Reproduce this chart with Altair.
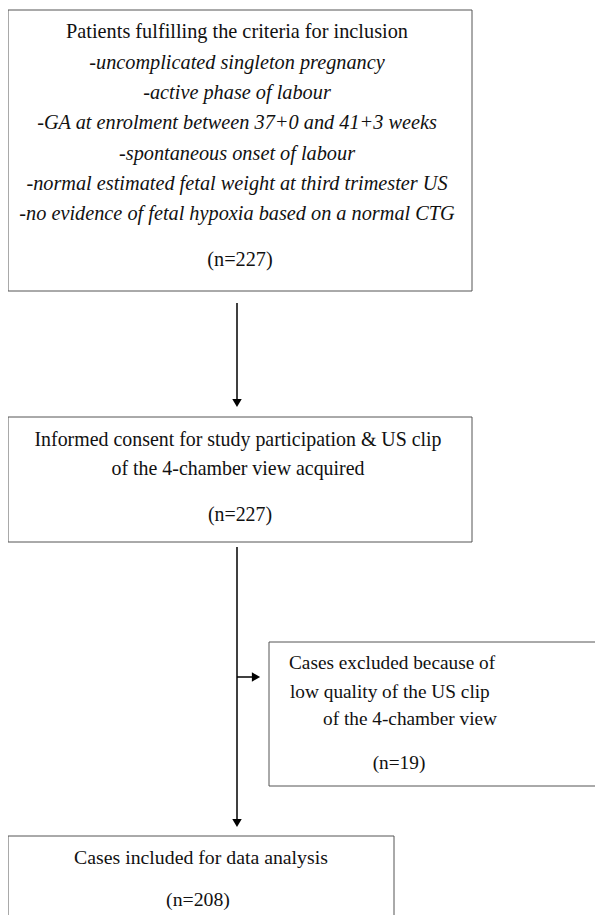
import altair as alt
import pandas as pd

# ---- content ----
box1_title = "Patients fulfilling the criteria for inclusion"
criteria = [
    "-uncomplicated singleton pregnancy",
    "-active phase of labour",
    "-GA at enrolment between 37+0 and 41+3 weeks",
    "-spontaneous onset of labour",
    "-normal estimated fetal weight at third trimester US",
    "-no evidence of fetal hypoxia based on a normal CTG",
]
box2_lines = [
    "Informed consent for study participation & US clip",
    "of the 4-chamber view acquired",
]
box3_lines = [
    "Cases excluded because of",
    "low quality of the US clip",
    "of the 4-chamber view",
]
box4_lines = ["Cases included for data analysis"]
counts = [227, 227, 19, 208]

# ---- layout (page pixel coordinates) ----
boxes = pd.DataFrame({
    "x": [8, 8, 269, 8],
    "x2": [472, 472, 650, 394],
    "y": [10, 417, 642, 836],
    "y2": [291, 542, 786, 980],
})

rows = []
rows.append(dict(x=237, y=32, text=box1_title, style="normal", align="center", fs=20.3))
for yy, t in zip([63, 93, 123, 154, 184, 214], criteria):
    rows.append(dict(x=237, y=yy, text=t, style="italic", align="center", fs=20.3))
rows.append(dict(x=240, y=260, text=f"(n={counts[0]})", style="normal", align="center", fs=20.3))
for yy, t in zip([440, 469], box2_lines):
    rows.append(dict(x=238, y=yy, text=t, style="normal", align="center", fs=19.9))
rows.append(dict(x=240, y=515, text=f"(n={counts[1]})", style="normal", align="center", fs=19.9))
for xx, yy, t in zip([289, 290, 323], [663, 692, 719], box3_lines):
    rows.append(dict(x=xx, y=yy, text=t, style="normal", align="left", fs=19.3))
rows.append(dict(x=399, y=763, text=f"(n={counts[2]})", style="normal", align="center", fs=19.3))
rows.append(dict(x=201, y=858, text=box4_lines[0], style="normal", align="center", fs=19.8))
rows.append(dict(x=198, y=900, text=f"(n={counts[3]})", style="normal", align="center", fs=19.8))
texts = pd.DataFrame(rows)

lines = pd.DataFrame({
    "x": [237, 237, 237],
    "x2": [237, 237, 256],
    "y": [303, 547, 677],
    "y2": [402, 822, 677],
})
heads_down = pd.DataFrame({"x": [237, 237], "y": [403, 823]})
heads_right = pd.DataFrame({"x": [256], "y": [677]})

W, H = 587, 907
xs = alt.Scale(domain=[8, 8 + W])
ys = alt.Scale(domain=[8, 8 + H], reverse=True)
FONT = "Liberation Serif"

rects = alt.Chart(boxes).mark_rect(fill=None, stroke="#555555", strokeWidth=1, clip=True).encode(
    x=alt.X("x:Q", scale=xs, axis=None), x2="x2", y=alt.Y("y:Q", scale=ys, axis=None), y2="y2"
)
rules = alt.Chart(lines).mark_rule(color="black", strokeWidth=1.5).encode(
    x=alt.X("x:Q", scale=xs), x2="x2", y=alt.Y("y:Q", scale=ys), y2="y2"
)
hd = alt.Chart(heads_down).mark_point(shape="triangle-down", filled=True, color="black", size=90, opacity=1).encode(
    x=alt.X("x:Q", scale=xs), y=alt.Y("y:Q", scale=ys)
)
hr = alt.Chart(heads_right).mark_point(shape="triangle-right", filled=True, color="black", size=90, opacity=1).encode(
    x=alt.X("x:Q", scale=xs), y=alt.Y("y:Q", scale=ys)
)

def text_layer(df, style, align):
    return alt.Chart(df).mark_text(font=FONT, fontStyle=style, align=align,
                                   baseline="middle", color="#111111").encode(
        x=alt.X("x:Q", scale=xs), y=alt.Y("y:Q", scale=ys), text="text:N",
        size=alt.Size("fs:Q", scale=None, legend=None),
    )

layers = [rects, rules, hd, hr]
for st in ["normal", "italic"]:
    for al in ["center", "left"]:
        sub = texts[(texts["style"] == st) & (texts["align"] == al)]
        if len(sub):
            layers.append(text_layer(sub, st, al))

chart = alt.layer(*layers).properties(
    width=W, height=H, autosize=alt.AutoSizeParams(type="none"), padding=0, background="white"
).configure_view(stroke=None, strokeWidth=0)

chart.save("out.html", embed_options={"renderer": "svg", "actions": False})
